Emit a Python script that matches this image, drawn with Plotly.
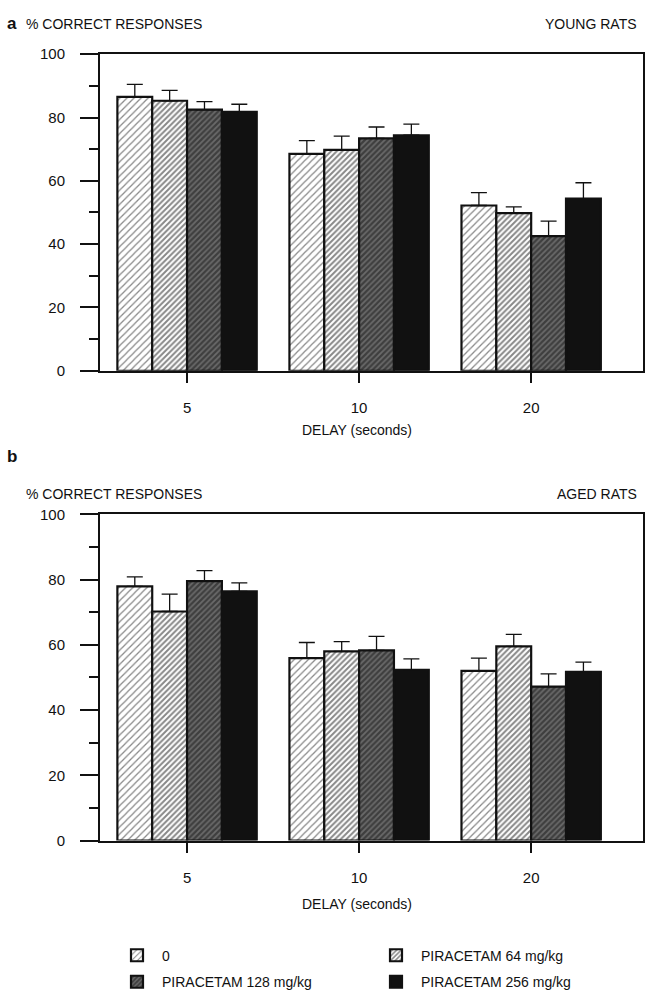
import plotly.graph_objects as go
from plotly.subplots import make_subplots

delays = ["5", "10", "20"]
series_names = ["0", "PIRACETAM 64 mg/kg", "PIRACETAM 128 mg/kg", "PIRACETAM 256 mg/kg"]

# Young rats: mean % correct and SEM (upper error only)
young_means = [
    [86.5, 68.5, 52.2],
    [85.3, 69.8, 49.8],
    [82.5, 73.4, 42.5],
    [81.8, 74.4, 54.4],
]
young_sem = [
    [4.0, 4.2, 4.1],
    [3.3, 4.3, 2.0],
    [2.5, 3.6, 4.8],
    [2.4, 3.5, 5.0],
]

# Aged rats
aged_means = [
    [77.9, 55.9, 52.0],
    [70.2, 58.0, 59.5],
    [79.5, 58.3, 47.2],
    [76.4, 52.3, 51.7],
]
aged_sem = [
    [2.9, 4.8, 3.9],
    [5.3, 3.0, 3.7],
    [3.2, 4.3, 3.9],
    [2.6, 3.4, 3.0],
]

y_ticks = [0, 20, 40, 60, 80, 100]

FONT = "Liberation Sans, Arial, sans-serif"
INK = "#111111"

patterns = [
    dict(shape="/", size=5, solidity=0.25, fgcolor=INK, bgcolor="white"),
    dict(shape="/", size=4, solidity=0.5, fgcolor=INK, bgcolor="white"),
    dict(shape="/", size=4, solidity=0.55, fgcolor=INK, bgcolor="#6a6a6a"),
    None,
]
legends = ["legend", "legend", "legend2", "legend2"]

fig = make_subplots(rows=2, cols=1)

for row, (means, sems) in enumerate([(young_means, young_sem), (aged_means, aged_sem)], start=1):
    for i, name in enumerate(series_names):
        marker = dict(color="white" if patterns[i] else INK,
                      line=dict(color=INK, width=2.2))
        if patterns[i]:
            marker["pattern"] = patterns[i]
        fig.add_trace(
            go.Bar(
                x=delays,
                y=means[i],
                name=name,
                marker=marker,
                error_y=dict(type="data", symmetric=False, array=sems[i],
                             arrayminus=[0] * len(sems[i]),
                             color=INK, thickness=1.3, width=8),
                showlegend=(row == 1),
                legend=legends[i],
            ),
            row=row, col=1,
        )

W, H = 650, 1000
L, R = 100, 7
PW = W - L - R


def px_x(px):
    return (px - L) / PW


def px_y(py):
    return 1 - py / H


axis_common = dict(
    showline=True, linewidth=2, linecolor=INK, mirror=True,
    showgrid=False, zeroline=False,
    tickfont=dict(family=FONT, size=15, color=INK),
)

fig.update_xaxes(
    type="category", range=[-0.506, 2.65], ticks="outside", ticklen=10,
    tickwidth=2, tickcolor=INK, ticklabelstandoff=12, **axis_common,
)
fig.update_yaxes(
    range=[0, 100], tickvals=y_ticks, ticks="outside", ticklen=18,
    tickwidth=1.5, tickcolor=INK, ticklabelstandoff=12,
    minor=dict(dtick=10, ticks="outside", ticklen=9, tickwidth=1.5, tickcolor=INK),
    **axis_common,
)

fig.update_layout(
    yaxis=dict(domain=[px_y(368), px_y(46)]),
    yaxis2=dict(domain=[px_y(846), px_y(514)]),
    xaxis=dict(domain=[0, 1]),
    xaxis2=dict(domain=[0, 1]),
)

annotations = [
    dict(text="<b>a</b>", x=px_x(5), y=px_y(15), xanchor="left", font=dict(size=17)),
    dict(text="% CORRECT RESPONSES", x=px_x(24), y=px_y(15), xanchor="left"),
    dict(text="YOUNG RATS", x=px_x(639), y=px_y(15), xanchor="right"),
    dict(text="DELAY (seconds)", x=px_x(357), y=px_y(428), xanchor="center"),
    dict(text="<b>b</b>", x=px_x(5), y=px_y(455), xanchor="left", font=dict(size=17)),
    dict(text="% CORRECT RESPONSES", x=px_x(24), y=px_y(493), xanchor="left"),
    dict(text="AGED RATS", x=px_x(639), y=px_y(493), xanchor="right"),
    dict(text="DELAY (seconds)", x=px_x(357), y=px_y(910), xanchor="center"),
]
for a in annotations:
    a.update(xref="paper", yref="paper", yanchor="middle", showarrow=False)
    f = dict(family=FONT, size=14, color=INK)
    f.update(a.get("font", {}))
    a["font"] = f

legend_common = dict(
    orientation="h", xanchor="left", yanchor="middle",
    font=dict(family=FONT, size=14, color=INK),
    entrywidth=204, itemwidth=40, bgcolor="rgba(0,0,0,0)",
    traceorder="normal", itemclick=False, itemdoubleclick=False,
)

fig.update_layout(
    width=W, height=H,
    margin=dict(l=L, r=R, t=0, b=0),
    paper_bgcolor="white", plot_bgcolor="white",
    barmode="group", bargap=0.19, bargroupgap=0,
    font=dict(family=FONT, size=14, color=INK),
    annotations=annotations,
    legend=dict(x=px_x(112), y=px_y(963), **legend_common),
    legend2=dict(x=px_x(112), y=px_y(990), **legend_common),
)

fig.write_html(
    "out.html",
    config={"displayModeBar": False},
    post_script="document.body.style.margin='0';document.body.style.overflow='hidden';",
)
